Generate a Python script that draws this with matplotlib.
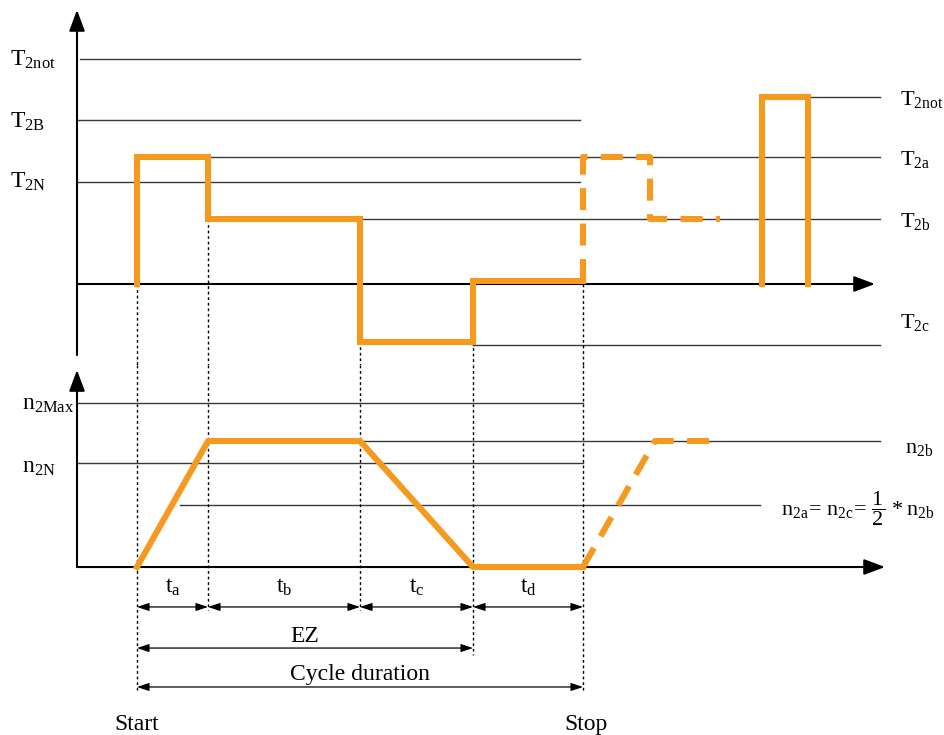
import matplotlib.pyplot as plt

plt.rcParams['font.family'] = ['Liberation Serif', 'DejaVu Serif']
plt.rcParams['mathtext.fontset'] = 'custom'
plt.rcParams['mathtext.rm'] = 'Liberation Serif'
plt.rcParams['mathtext.it'] = 'Liberation Serif:italic'

# --- Data (time in arbitrary units, Start = 0) ---
t_marks = [0.0, 7.1, 22.3, 33.6, 44.6]          # Start, end ta, tb, tc, td (Stop)
t_labels = ['a', 'b', 'c', 'd']

# torque levels (T2N = 1)
T_levels = {'2not': 2.206, '2B': 1.608, '2N': 1.0, '2a': 1.245, '2b': 0.637,
            '2c': -0.598, '2not_r': 1.833}
torque_t = [0.0, 0.0, 7.1, 7.1, 22.3, 22.3, 33.6, 33.6, 44.6]
torque_v = [0.0, 1.245, 1.245, 0.637, 0.637, -0.57, -0.57, 0.03, 0.03]
torque_dash_t = [44.6, 44.6, 51.3, 51.3, 58.3]
torque_dash_v = [0.03, 1.245, 1.245, 0.637, 0.637]
pulse_t = [62.5, 62.5, 67.1, 67.1]
pulse_v = [0.0, 1.833, 1.833, 0.0]

# speed levels (n2b = 1)
n_levels = {'2Max': 1.302, '2N': 0.825, '2b': 1.0, '2a': 0.492}
speed_t = [0.0, 7.1, 22.3, 33.6, 44.6]
speed_v = [0.0, 1.0, 1.0, 0.0, 0.0]
speed_dash_t = [44.6, 51.8, 58.3]
speed_dash_v = [0.0, 1.0, 1.0]

orange = '#F39A1F'
gray = '#3a3a3a'
fs = 17
fs_r = 16

fig = plt.figure(figsize=(9.44, 7.35), dpi=100)
ax1 = fig.add_axes([0, 0.5034, 1, 0.4966])
ax2 = fig.add_axes([0, 0, 1, 0.5034])
xlim = (-13.7, 80.7)
for ax in (ax1, ax2):
    ax.set_xlim(*xlim)
    ax.axis('off')
ax1.set_ylim(-0.794, 2.784)
ax2.set_ylim(-1.333, 1.603)

axis_arrow = dict(arrowstyle='-|>,head_length=0.8,head_width=0.3', mutation_scale=16,
                  lw=1.5, color='black', shrinkA=0, shrinkB=0)
dim_arrow = dict(arrowstyle='<|-|>,head_length=0.6,head_width=0.2', mutation_scale=12,
                 lw=0.9, color='black', shrinkA=0, shrinkB=0)

# ---------- Torque panel ----------
ax1.annotate('', xy=(-6, 2.686), xytext=(-6, -0.696), arrowprops=axis_arrow)
ax1.annotate('', xy=(73.8, 0), xytext=(-6, 0), arrowprops=axis_arrow)

ref_top = [(-5.7, 44.3, T_levels['2not']), (-6, 44.3, T_levels['2B']),
           (-6, 44.3, T_levels['2N']), (7.1, 74.3, T_levels['2a']),
           (22.3, 74.3, T_levels['2b']), (67.1, 74.3, T_levels['2not_r']),
           (33.6, 74.3, T_levels['2c'])]
for x0, x1, v in ref_top:
    ax1.plot([x0, x1], [v, v], color=gray, lw=1.0, zorder=1)

ax1.plot(torque_t, torque_v, color=orange, lw=4.4, solid_joinstyle='miter', zorder=3)
ax1.plot(torque_dash_t, torque_dash_v, color=orange, lw=4.4, dashes=(3.6, 2.2),
         dash_capstyle='butt', solid_joinstyle='miter', zorder=3)
ax1.plot(pulse_t, pulse_v, color=orange, lw=4.4, solid_joinstyle='miter', zorder=3)

for txt, y in [('2not', 2.137), ('2B', 1.529), ('2N', 0.941)]:
    ax1.text(-12.7, y, r'$\mathrm{T}_{\mathrm{%s}}$' % txt, fontsize=fs, va='baseline')
for txt, y in [('2not', 1.755), ('2a', 1.167), ('2b', 0.559), ('2c', -0.431)]:
    ax1.text(76.3, y, r'$\mathrm{T}_{\mathrm{%s}}$' % txt, fontsize=fs_r, va='baseline')

# ---------- Speed panel ----------
ax2.annotate('', xy=(-6, 1.563), xytext=(-6, 0), arrowprops=axis_arrow)
ax2.annotate('', xy=(74.8, 0), xytext=(-6, 0), arrowprops=axis_arrow)

ref_bot = [(-6, 44.6, n_levels['2Max']), (-6, 44.6, n_levels['2N']),
           (7.1, 74.3, n_levels['2b']), (4.3, 62.3, n_levels['2a'])]
for x0, x1, v in ref_bot:
    ax2.plot([x0, x1], [v, v], color=gray, lw=1.0, zorder=1)

ax2.plot(speed_t, speed_v, color=orange, lw=4.4, zorder=3)
ax2.plot(speed_dash_t, speed_dash_v, color=orange, lw=4.4, dashes=(3.6, 2.2),
         dash_capstyle='butt', zorder=3)

ax2.text(-11.5, 1.246, r'$\mathrm{n}_{\mathrm{2Max}}$', fontsize=fs, va='baseline')
ax2.text(-11.5, 0.746, r'$\mathrm{n}_{\mathrm{2N}}$', fontsize=fs, va='baseline')
ax2.text(76.8, 0.905, r'$\mathrm{n}_{\mathrm{2b}}$', fontsize=fs_r, va='baseline')
ax2.text(64.4, 0.413,
         r'$\mathrm{n}_{\mathrm{2a}}\!=\,\mathrm{n}_{\mathrm{2c}}\!=\,\dfrac{1}{2}\,*\mathrm{n}_{\mathrm{2b}}$',
         fontsize=fs_r, va='baseline')

# ---------- dotted time markers ----------
top_start = [0.0, 0.637, 0.637, -0.57, 0.0]
bot_end = [-0.976, -0.341, -0.341, -0.698, -0.976]
for t, v0, v1 in zip(t_marks, top_start, bot_end):
    ax1.plot([t, t], [v0, -0.794], color='black', lw=1.0, dashes=(2, 2), zorder=2)
    ax2.plot([t, t], [1.603, v1], color='black', lw=1.0, dashes=(2, 2), zorder=2)

# ---------- dimension arrows ----------
for i, lab in enumerate(t_labels):
    a, b = t_marks[i], t_marks[i + 1]
    ax2.annotate('', xy=(b, -0.317), xytext=(a, -0.317), arrowprops=dim_arrow)
    ax2.text((a + b) / 2, -0.206, r'$\mathrm{t}_{\mathrm{%s}}$' % lab, fontsize=fs,
             ha='center', va='baseline')

ax2.annotate('', xy=(t_marks[3], -0.643), xytext=(t_marks[0], -0.643), arrowprops=dim_arrow)
ax2.text((t_marks[0] + t_marks[3]) / 2, -0.595, 'EZ', fontsize=fs, ha='center', va='baseline')
ax2.annotate('', xy=(t_marks[4], -0.952), xytext=(t_marks[0], -0.952), arrowprops=dim_arrow)
ax2.text((t_marks[0] + t_marks[4]) / 2, -0.897, 'Cycle duration', fontsize=fs,
         ha='center', va='baseline')

ax2.text(t_marks[0], -1.294, 'Start', fontsize=fs, ha='center', va='baseline')
ax2.text(t_marks[4] + 0.3, -1.294, 'Stop', fontsize=fs, ha='center', va='baseline')

fig.savefig('out.png', dpi=100, facecolor='white')
